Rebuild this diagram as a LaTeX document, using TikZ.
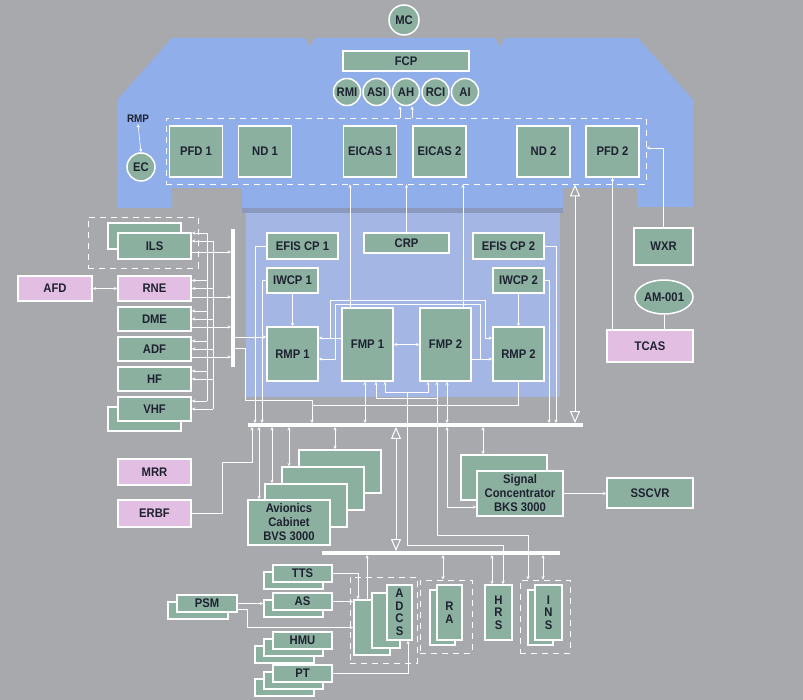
\documentclass[tikz,border=0pt]{standalone}
\usepackage{fontspec}
\setmainfont{Liberation Sans}[FakeStretch=0.9]
\usetikzlibrary{arrows.meta,calc,shapes.geometric}

\definecolor{grayback}{RGB}{167,169,172}
\definecolor{panelblue}{RGB}{144,174,234}
\definecolor{coreblue}{RGB}{163,182,228}
\definecolor{seamblue}{RGB}{140,153,190}
\definecolor{unitgreen}{RGB}{140,176,160}
\definecolor{unitpink}{RGB}{226,190,226}
\definecolor{ink}{RGB}{30,34,48}

\tikzset{
  wh/.style 2 args={minimum width=#1pt, minimum height=#2pt},
  unit/.style={draw=white, line width=1.5pt, fill=unitgreen, text=ink, inner sep=0pt,
    font=\bfseries\fontsize{12.5}{13}\selectfont},
  pinkunit/.style={unit, fill=unitpink},
  gauge/.style={unit, circle, minimum size=27pt},
  stack/.style={unit, align=center, font=\bfseries\fontsize{12.5}{14}\selectfont},
  column/.style={unit, align=center, font=\bfseries\fontsize{12.5}{12.5}\selectfont},
  group/.style={draw=white, dashed, dash pattern=on 6pt off 5pt, line width=0.8pt, inner sep=0pt},
  wire/.style={draw=white, line width=0.6pt},
  bus/.style={fill=white, inner sep=0pt, minimum height=3.5pt},
  bigarrow/.style={draw=white, line width=1pt,
    {Triangle[open,length=12pt,width=10pt]}-{Triangle[open,length=12pt,width=10pt]}},
}

\begin{document}
\begin{tikzpicture}[x=1pt, y=-1pt, >={Stealth[length=3.5pt,width=3.2pt]}]
    \fill[grayback] (0,0) rectangle (803,700);
    \useasboundingbox (0,0) rectangle (803,700);

    % glareshield, panel and pedestal
    \fill[panelblue] (172,38) -- (305,38) -- (310,47) -- (315,38) -- (495,38) -- (500,47)
        -- (505,38) -- (638,38) -- (693,100) -- (693,207) -- (637,207) -- (637,188)
        -- (563,188) -- (563,208) -- (242,208) -- (242,188) -- (172,188) -- (172,208)
        -- (117,208) -- (117,100) -- cycle;
    \fill[seamblue] (242,208) rectangle (563,213);
    \fill[coreblue] (246,213) rectangle (560,397);

    % displays
    \node[gauge, minimum size=30pt] (mc) at (404,20) {MC};
    \node[unit, wh={126}{20}] (fcp) at (406,61) {FCP};
    \foreach \id/\lbl/\x in {rmi/RMI/347, asi/ASI/376.5, ah/AH/406, rci/RCI/435.5, ai/AI/465}
        \node[gauge] (\id) at (\x,92) {\lbl};
    \node[group, wh={480}{66}] (dsp) at (406,151) {};
    \foreach \id/\lbl/\x in {pfd1/PFD 1/196, nd1/ND 1/265, eicas1/EICAS 1/370,
                             eicas2/EICAS 2/439.5, nd2/ND 2/543.5, pfd2/PFD 2/612.5}
        \node[unit, wh={53}{51}] (\id) at (\x,151.5) {\lbl};
    \node[text=ink, font=\bfseries\fontsize{11}{12}\selectfont, inner sep=1pt] (rmplbl) at (138,119) {RMP};
    \node[gauge, minimum size=28pt] (ec) at (141,167) {EC};

    % pedestal units
    \node[unit, wh={71}{26}] (efis1) at (302.5,246) {EFIS CP 1};
    \node[unit, wh={85}{20}] (crp) at (406.5,243) {CRP};
    \node[unit, wh={71}{26}] (efis2) at (508.5,246) {EFIS CP 2};
    \node[unit, wh={51}{25}] (iwcp1) at (292.5,280.5) {IWCP 1};
    \node[unit, wh={51}{25}] (iwcp2) at (518.5,280.5) {IWCP 2};
    \node[unit, wh={51}{54}] (rmp1) at (292.5,354) {RMP 1};
    \node[unit, wh={51}{73}] (fmp1) at (367.5,344.5) {FMP 1};
    \node[unit, wh={51}{73}] (fmp2) at (445.5,344.5) {FMP 2};
    \node[unit, wh={51}{54}] (rmp2) at (518.5,354) {RMP 2};

    % right side
    \node[unit, wh={59}{37}] (wxr) at (663.5,246.5) {WXR};
    \node[unit, ellipse, wh={58}{34}] (am) at (664,297) {AM-001};
    \node[pinkunit, wh={86}{32}] (tcas) at (650,346) {TCAS};

    % radio stack
    \node[group, wh={110}{51}] (ilsgrp) at (143,242.5) {};
    \node[unit, wh={73}{26}] (ilsback) at (144.5,236) {};
    \node[unit, wh={73}{26}] (ils) at (154.5,246) {ILS};
    \node[pinkunit, wh={74}{25}] (afd) at (55,288.5) {AFD};
    \node[pinkunit, wh={73}{25}] (rne) at (154.5,288.5) {RNE};
    \foreach \id/\lbl/\y in {dme/DME/319, adf/ADF/349, hf/HF/379}
        \node[unit, wh={73}{24}] (\id) at (154.5,\y) {\lbl};
    \node[unit, wh={73}{24}] (vhfback) at (144.5,419) {};
    \node[unit, wh={73}{24}] (vhf) at (154.5,409) {VHF};
    \node[pinkunit, wh={73}{26}] (mrr) at (154.5,472) {MRR};
    \node[pinkunit, wh={73}{27}] (erbf) at (154.5,513.5) {ERBF};

    % cabinets
    \foreach \k in {3,2,1}
        \node[unit, wh={82}{43}] (cab\k) at ({289+17*\k},{522.5-17*\k}) {};
    \node[stack, wh={82}{45}] (cab0) at (289,522.5) {Avionics\\Cabinet\\BVS 3000};
    \node[unit, wh={86}{45}] (scback) at (504,477.5) {};
    \node[stack, wh={86}{45}] (sc) at (520,493.5) {Signal\\Concentrator\\BKS 3000};
    \node[unit, wh={86}{30}] (sscvr) at (650,493) {SSCVR};

    % sensors
    \node[unit, wh={59}{17}] (ttsback) at (293.5,580.5) {};
    \node[unit, wh={59}{17}] (tts) at (302.5,573.5) {TTS};
    \node[unit, wh={59}{17}] (asback) at (293.5,608.5) {};
    \node[unit, wh={59}{17}] (as) at (302.5,601.5) {AS};
    \node[unit, wh={59}{17}] (hmuback) at (284.5,654.5) {};
    \node[unit, wh={59}{17}] (hmumid) at (293.5,647.5) {};
    \node[unit, wh={59}{17}] (hmu) at (302.5,640.5) {HMU};
    \node[unit, wh={59}{17}] (ptback) at (284.5,687.5) {};
    \node[unit, wh={59}{17}] (ptmid) at (293.5,680.5) {};
    \node[unit, wh={59}{17}] (pt) at (302.5,673.5) {PT};
    \node[unit, wh={60}{17}] (psmback) at (198,610.5) {};
    \node[unit, wh={60}{17}] (psm) at (207,603.5) {PSM};

    \node[group, wh={67}{86}] (adcsgrp) at (383.5,620) {};
    \node[unit, wh={36}{55}] (adcsa) at (372,627.5) {};
    \node[unit, wh={28}{55}] (adcsb) at (386,620.5) {};
    \node[column, wh={25}{55}] (adcs) at (399.5,612.5) {A\\D\\C\\S};
    \node[group, wh={52}{73}] (ragrp) at (446,616.5) {};
    \node[unit, wh={25}{55}] (raback) at (442.5,617.5) {};
    \node[column, wh={25}{55}] (ra) at (449.5,612.5) {R\\A};
    \node[column, wh={27}{55}] (hrs) at (498.5,612.5) {H\\R\\S};
    \node[group, wh={50}{73}] (insgrp) at (545,616.5) {};
    \node[unit, wh={25}{55}] (insback) at (540.5,617.5) {};
    \node[column, wh={27}{55}] (ins) at (548.5,612.5) {I\\N\\S};

    % buses
    \node[bus, minimum width=335pt] (bus) at (415.5,425) {};
    \node[bus, minimum width=238pt] (lowbus) at (441,553) {};
    \node[bus, minimum width=3.5pt, minimum height=138pt] (lbus) at (233,298) {};
    \coordinate (bigx) at (575,0);
    \coordinate (jn) at (312,400);
    \coordinate (trunka) at (207,0);
    \coordinate (trunkb) at (213,0);

    % panel wiring
    \draw[wire,<->] (rmplbl.south) -- (ec.north);
    \draw[wire,->] ([xshift=-6pt]ah.south |- dsp.north) -- ([xshift=-6pt]ah.south);
    \draw[wire,->] ([xshift=6pt]ah.south |- dsp.north) -- ([xshift=6pt]ah.south);
    \draw[wire,->] ([xshift=-17.5pt]fmp1.north) -- ([xshift=-17.5pt]fmp1.north |- dsp.south);
    \draw[wire,->] ([xshift=17.5pt]fmp2.north) -- ([xshift=17.5pt]fmp2.north |- dsp.south);
    \draw[wire,->] (crp.north) -- (crp.north |- dsp.south);
    \draw[wire,->] (tcas.north -| pfd2.south) -- (pfd2.south);
    \draw[wire,->] (wxr.north) |- ([yshift=3pt]dsp.east);
    \draw[wire] (am.south) -- (am.south |- tcas.north);
    \draw[bigarrow] (bigx |- dsp.south) -- (bigx |- bus.north);

    % pedestal wiring
    \draw[wire,->] (iwcp1) -- (rmp1);
    \draw[wire,->] (iwcp2) -- (rmp2);
    \draw[wire,<->] (fmp1) -- (fmp2);
    \draw[wire,->] ([yshift=6.5pt]fmp1.west) -- ([yshift=6.5pt]fmp1.west -| rmp1.east);
    \draw[wire,->] ([xshift=12pt,yshift=16pt]rmp1.east) -- ++(0,-38) -- ++(155,0) -- ++(0,38)
        -- ([yshift=16pt]rmp2.west);
    \draw[wire,<->] ([yshift=-5pt]rmp1.east) -- ++(17,0) -- ++(0,-55) -- ++(145,0) -- ++(0,55)
        -- ([yshift=-5pt]rmp2.west);
    \draw[wire] ([yshift=-14.5pt]fmp2.east) -- ++(9,0);
    \draw[wire,->] (efis1.west) -| ([xshift=-160.5pt]bus.north);
    \draw[wire,->] (iwcp1.west) -| ([xshift=-153.5pt]bus.north);
    \draw[wire,->] (efis2.east) -| ([xshift=140.5pt]bus.north);
    \draw[wire,->] (iwcp2.east) -| ([xshift=133.5pt]bus.north);
    \draw[wire,->] ([yshift=-39pt]lbus.east) -- ([yshift=17pt]rmp1.west);
    \draw[wire,->] ([yshift=-50pt]lbus.east) -- ++(10,0) |- (jn) -- (jn |- bus.north);
    \draw[wire] (rmp2.south) |- ([yshift=-5pt]jn);
    \draw[wire,<->] ([xshift=-2.5pt]fmp1.south) -- ([xshift=-2.5pt]fmp1.south |- bus.north);
    \draw[wire,<->] ([xshift=1.5pt]fmp2.south) -- ([xshift=1.5pt]fmp2.south |- bus.north);
    \draw[wire,<->] ([xshift=8.5pt]fmp1.south) -- ++(0,17) -| ([xshift=-8.5pt]fmp2.south);
    \draw[wire,<->] ([xshift=17.5pt]fmp1.south) -- ++(0,11) -| ([xshift=-17.5pt]fmp2.south);
    \draw[wire,->] ([xshift=-8.5pt]fmp2.south) ++(0,17) -- ++(0,137) -| ([xshift=-17pt]insgrp.north);
    \draw[wire,->] ([xshift=39.5pt,yshift=-11pt]fmp1.south) -- ++(0,153) -| ([xshift=4.5pt]hrs.north);

    % radio stack wiring
    \draw[wire,<->] (afd) -- (rne);
    \foreach \id/\dy in {ils/-6, rne/-8.5, dme/-8, adf/-8}
        \draw[wire,->] ([yshift=\dy pt]\id.east) -- ([yshift=\dy pt]\id.east -| lbus.west);
    \foreach \id/\ya/\yb in {ils/13/5, rne/8/0, dme/8/0, adf/8/0, hf/8/0, vhf/8/0} {
        \draw[wire,<-] ([yshift=\ya pt]\id.east) -- ([yshift=\ya pt]\id.east -| trunka);
        \draw[wire,<-] ([yshift=\yb pt]\id.east) -- ([yshift=\yb pt]\id.east -| trunkb);
    }
    \draw[wire] ([yshift=13pt]ils.east -| trunka) -- ([yshift=8pt]vhf.east -| trunka);
    \draw[wire] ([yshift=5pt]ils.east -| trunkb) -- (vhf.east -| trunkb);
    \draw[wire,->] (erbf.east) -- ++(31,0) |- ([xshift=-163.5pt,yshift=-35pt]bus.south)
        -- ([xshift=-163.5pt]bus.south);

    % cabinet wiring
    \foreach \c/\dx in {cab0/-156.5, cab1/-143.5, cab2/-126.5, cab3/-80.5}
        \draw[wire,<->] ([xshift=\dx pt]bus.south) -- ([xshift=\dx pt]bus.south |- \c.north);
    \draw[wire,<->] ([xshift=67.5pt]bus.south) -- ([xshift=67.5pt]bus.south |- scback.north);
    \draw[wire,<->] ([xshift=31.5pt]bus.south) |- ([yshift=-13.5pt]sc.west);
    \draw[wire,->] (sc.east) -- (sc.east -| sscvr.west);
    \draw[bigarrow] ([xshift=-19.5pt]bus.south) -- ([xshift=-19.5pt]bus.south |- lowbus.north);

    % sensor wiring
    \draw[wire,<-] ([xshift=-74pt]lowbus.south) -- ([xshift=-74pt]lowbus.south |- adcsa.north);
    \draw[wire,<->] ([xshift=2pt]lowbus.south) -- ([xshift=2pt]lowbus.south |- ragrp.north);
    \draw[wire,<->] ([xshift=51pt]lowbus.south) -- ([xshift=51pt]lowbus.south |- hrs.north);
    \draw[wire,<->] ([xshift=102pt]lowbus.south) -- ([xshift=102pt]lowbus.south |- insgrp.north);
    \draw[wire,->] (tts.east) -| ([xshift=-14pt]adcsa.north);
    \draw[wire,->] (as.east) -- (as.east -| adcsa.west);
    \draw[wire,->] (psm.east) -- (psm.east -| asback.west);
    \draw[wire,->] ([yshift=-6pt]psm.east) -- ++(10,0) |- (adcsa.west);
    \draw[wire,->] (pt.east) -| ([xshift=8.5pt]adcs.south);
\end{tikzpicture}
\end{document}
